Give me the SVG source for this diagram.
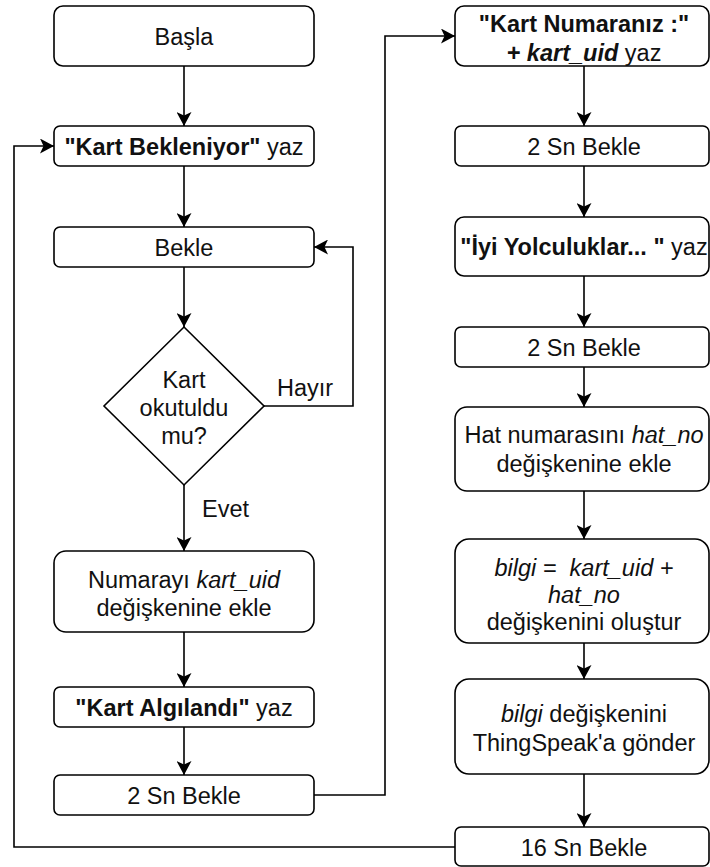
<svg xmlns="http://www.w3.org/2000/svg" width="710" height="867" viewBox="0 0 710 867">
<defs>
<style>
.box{fill:#fff;stroke:#000;stroke-width:1.6}
.ln{fill:none;stroke:#000;stroke-width:1.6}
text{font-family:"Liberation Sans",Arial,sans-serif;font-size:23.5px;fill:#111}
.c{text-anchor:middle}
.b{font-weight:bold}
.i{font-style:italic}
.pre{white-space:pre}
</style>
<marker id="arr" markerUnits="userSpaceOnUse" markerWidth="15" markerHeight="15" viewBox="0 0 15 15" refX="14" refY="7.5" orient="auto">
<path d="M14,7.5 L0,0 L3.5,7.5 L0,15 z" fill="#000"/>
</marker>
</defs>
<rect width="710" height="867" fill="#fff"/>

<g id="connectors">
<line class="ln" x1="184" y1="66" x2="184" y2="126" marker-end="url(#arr)"/>
<line class="ln" x1="184" y1="166" x2="184" y2="227" marker-end="url(#arr)"/>
<line class="ln" x1="184" y1="267" x2="184" y2="327" marker-end="url(#arr)"/>
<polyline class="ln" points="264,406 353,406 353,247 314,247" marker-end="url(#arr)"/>
<line class="ln" x1="184" y1="485" x2="184" y2="551" marker-end="url(#arr)"/>
<line class="ln" x1="184" y1="632" x2="184" y2="687" marker-end="url(#arr)"/>
<line class="ln" x1="184" y1="727" x2="184" y2="775" marker-end="url(#arr)"/>
<polyline class="ln" points="314,795 385,795 385,36 455,36" marker-end="url(#arr)"/>
<line class="ln" x1="584" y1="66" x2="584" y2="126" marker-end="url(#arr)"/>
<line class="ln" x1="584" y1="166" x2="584" y2="217" marker-end="url(#arr)"/>
<line class="ln" x1="584" y1="276" x2="584" y2="327" marker-end="url(#arr)"/>
<line class="ln" x1="584" y1="367" x2="584" y2="407" marker-end="url(#arr)"/>
<line class="ln" x1="584" y1="491" x2="584" y2="539" marker-end="url(#arr)"/>
<line class="ln" x1="584" y1="643" x2="584" y2="679" marker-end="url(#arr)"/>
<line class="ln" x1="584" y1="774" x2="584" y2="827" marker-end="url(#arr)"/>
<polyline class="ln" points="455,847 14,847 14,146 54,146" marker-end="url(#arr)"/>
<text x="277" y="395.5">Hayır</text>
<text x="202" y="516.5">Evet</text>
</g>

<g id="basla">
<rect class="box" x="54" y="6" width="260" height="60" rx="9"/>
<text class="c" x="184" y="44.5">Başla</text>
</g>
<g id="kart-bekleniyor">
<rect class="box" x="54" y="126" width="260" height="40" rx="6"/>
<text class="c" x="184" y="154.5"><tspan class="b">"Kart Bekleniyor"</tspan> yaz</text>
</g>
<g id="bekle">
<rect class="box" x="54" y="227" width="260" height="40" rx="6"/>
<text class="c" x="184" y="255.5">Bekle</text>
</g>
<g id="karar">
<polygon class="box" points="184,327 264,406 184,485 104,406"/>
<text class="c" x="184" y="388">Kart</text>
<text class="c" x="184" y="416">okutuldu</text>
<text class="c" x="184" y="444">mu?</text>
</g>
<g id="numara">
<rect class="box" x="54" y="551" width="260" height="81" rx="12"/>
<text class="c" x="184" y="587.5">Numarayı <tspan class="i">kart_uid</tspan></text>
<text class="c" x="184" y="615.5">değişkenine ekle</text>
</g>
<g id="kart-algilandi">
<rect class="box" x="54" y="687" width="260" height="40" rx="6"/>
<text class="c" x="184" y="715.5"><tspan class="b">"Kart Algılandı"</tspan> yaz</text>
</g>
<g id="bekle2-sol">
<rect class="box" x="54" y="775" width="260" height="40" rx="6"/>
<text class="c" x="184" y="803.5">2 Sn Bekle</text>
</g>

<g id="kart-numaraniz">
<rect class="box" x="455" y="6" width="254" height="60" rx="9"/>
<text class="c" x="584" y="31.5"><tspan class="b">"Kart Numaranız :"</tspan></text>
<text class="c" x="584" y="60.5"><tspan class="b i">+ kart_uid</tspan> yaz</text>
</g>
<g id="bekle2-a">
<rect class="box" x="455" y="126" width="254" height="40" rx="6"/>
<text class="c" x="584" y="154.5">2 Sn Bekle</text>
</g>
<g id="iyi-yolculuklar">
<rect class="box" x="455" y="217" width="254" height="59" rx="9"/>
<text class="c pre" x="584" y="255"><tspan class="b">"İyi Yolculuklar... "</tspan> yaz</text>
</g>
<g id="bekle2-b">
<rect class="box" x="455" y="327" width="254" height="40" rx="6"/>
<text class="c" x="584" y="355.5">2 Sn Bekle</text>
</g>
<g id="hat-no">
<rect class="box" x="455" y="407" width="254" height="84" rx="12"/>
<text class="c" x="584" y="442.5">Hat numarasını <tspan class="i">hat_no</tspan></text>
<text class="c" x="584" y="471.5">değişkenine ekle</text>
</g>
<g id="bilgi">
<rect class="box" x="455" y="539" width="254" height="104" rx="14"/>
<text class="c i pre" x="584" y="575.5">bilgi =  kart_uid +</text>
<text class="c i" x="584" y="602.5">hat_no</text>
<text class="c" x="584" y="629.5">değişkenini oluştur</text>
</g>
<g id="gonder">
<rect class="box" x="455" y="679" width="254" height="95" rx="14"/>
<text class="c" x="584" y="721.5"><tspan class="i">bilgi</tspan> değişkenini</text>
<text class="c" x="584" y="750.5">ThingSpeak'a gönder</text>
</g>
<g id="bekle16">
<rect class="box" x="455" y="827" width="254" height="39" rx="6"/>
<text class="c" x="584" y="855.5">16 Sn Bekle</text>
</g>
</svg>
